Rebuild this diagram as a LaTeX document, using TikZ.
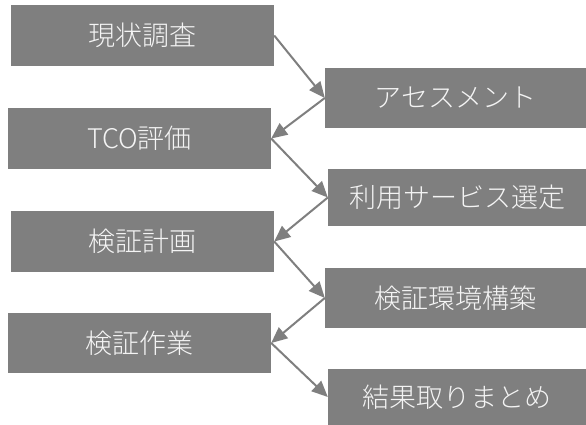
\documentclass[tikz,border=0pt]{standalone}
\usepackage{fontspec}
\setmainfont{Noto Sans CJK JP}[UprightFont={* Light}]
\usetikzlibrary{arrows.meta}
\definecolor{boxgray}{HTML}{7F7F7F}
\definecolor{txtwhite}{HTML}{F4F4F4}
\begin{document}
\begin{tikzpicture}[>={Triangle[length=16pt,width=14pt]},x=1pt,y=-1pt,
	stepbox/.style={rectangle,fill=boxgray,text=txtwhite,inner sep=0pt,minimum width=263pt,minimum height=61pt,font=\fontsize{27}{30}\selectfont},
	flow/.style={->,draw=boxgray,line width=2pt}]
		\useasboundingbox (0,0) rectangle (586,425);
		% cot trai
		\node[stepbox] (survey) at (142.5,35.5) {現状調査};
		\node[stepbox] (tco) at (139.5,138.5) {TCO評価};
		\node[stepbox] (plan) at (142.5,241.5) {検証計画};
		\node[stepbox,minimum height=60pt] (work) at (139.5,343) {検証作業};
		% cot phai
		\node[stepbox,minimum width=261pt,minimum height=60pt] (assess) at (455.5,98) {アセスメント};
		\node[stepbox,minimum width=258pt,minimum height=57pt] (select) at (457,197.5) {利用サービス選定};
		\node[stepbox,minimum width=261pt,minimum height=60pt] (build) at (455.5,298) {検証環境構築};
		\node[stepbox,minimum width=258pt,minimum height=56pt] (result) at (457,397) {結果取りまとめ};
		\draw[flow] (survey.east)--(assess.west);
		\draw[flow] (assess.west)--(tco.east);
		\draw[flow] (tco.east)--(select.west);
		\draw[flow] (select.west)--(plan.east);
		\draw[flow] (plan.east)--(build.west);
		\draw[flow] (build.west)--(work.east);
		\draw[flow] (work.east)--(result.west);
\end{tikzpicture}
\end{document}
